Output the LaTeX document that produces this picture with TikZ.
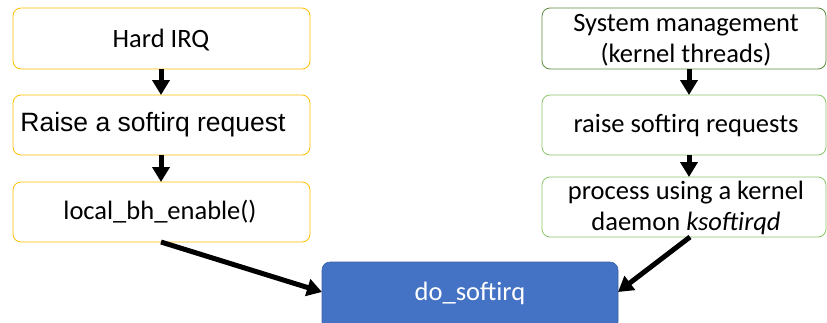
\documentclass[tikz,border=0pt]{standalone}
\usepackage{fontspec}
\setmainfont{Carlito}
\newfontfamily\arialfont{Liberation Sans}
\usetikzlibrary{arrows.meta}
\definecolor{ybord}{HTML}{FFC000}
\definecolor{gbord}{HTML}{8BC56A}
\definecolor{gdark}{HTML}{5B8C3E}
\definecolor{bfill}{HTML}{4472C4}
\definecolor{bbord}{HTML}{3A62A8}
\tikzset{
  box/.style={draw, rounded corners=8pt, line width=0.8pt, inner sep=0pt, fill=white},
  ybox/.style={box, draw=ybord},
  gbox/.style={box, draw=gbord},
  txt/.style={font=\fontsize{26.5}{31}\selectfont, align=center, inner sep=0pt},
  arr/.style={line width=5pt, -{Triangle[length=15pt,width=17pt]}}
}
\begin{document}
\begin{tikzpicture}[x=1pt,y=-1pt]
\useasboundingbox (0,0) rectangle (827,322);
% left column
\draw[ybox] (13,8) rectangle (310,69);
\node[txt] (hard) at (161,40) {Hard IRQ};
\draw[ybox] (13,95) rectangle (310,155);
\node[txt, font=\arialfont\fontsize{26.5}{31}\selectfont] (raise) at (153,125) {Raise a softirq request};
\draw[ybox] (13,182) rectangle (310,242);
\node[txt] (local) at (160,212) {local\_bh\_enable()};
\coordinate (l1b) at (161,69);
\coordinate (l2t) at (161,95);
\coordinate (l2b) at (161,155);
\coordinate (l3t) at (161,182);
\coordinate (l3b) at (161,242);
% right column
\draw[box, draw=gdark] (542,8) rectangle (826,69);
\node[txt] (sys) at (686,40) {System management\\(kernel threads)};
\draw[gbox] (542,95) rectangle (826,155);
\node[txt] (rr) at (686,126) {raise softirq requests};
\draw[gbox] (542,177) rectangle (826,237);
\node[txt] (proc) at (686,208) {process using a kernel\\daemon \textit{ksoftirqd}};
\coordinate (r1b) at (689,69);
\coordinate (r2t) at (689,95);
\coordinate (r2b) at (689,155);
\coordinate (r3t) at (689,177);
\coordinate (r3b) at (690,237);
% bottom
\draw[rounded corners=8pt, fill=bfill, draw=bbord, line width=0.6pt] (322,262) rectangle (618,330);
\node[txt, text=white] (do) at (470,293) {do\_softirq};
\coordinate (dol) at (322,292);
\coordinate (dor) at (618,292);
% arrows
\draw[arr] (l1b) -- (l2t);
\draw[arr] (l2b) -- (l3t);
\draw[arr] (r1b) -- (r2t);
\draw[arr] (r2b) -- (r3t);
\draw[arr] (l3b) -- (dol);
\draw[arr] (r3b) -- (dor);
\end{tikzpicture}
\end{document}
